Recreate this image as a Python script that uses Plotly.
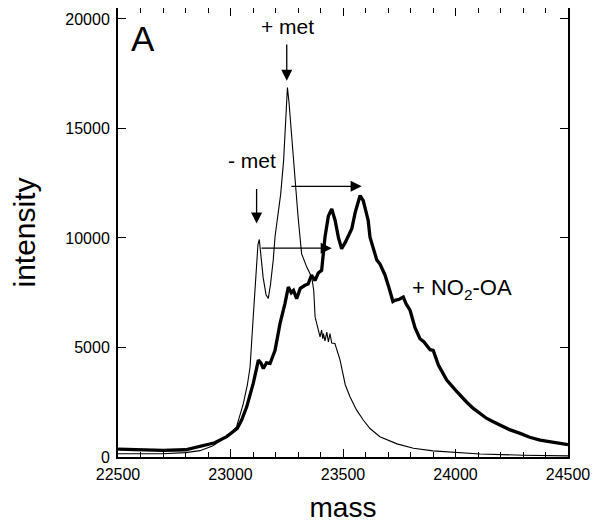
import plotly.graph_objects as go

# ---------------- data ----------------
mass_thin = [22500, 22600, 22700, 22800, 22864, 22920, 22983, 23027, 23057, 23075,
             23087, 23101, 23106, 23115, 23122, 23128, 23135, 23145, 23158, 23168,
             23178, 23190, 23198, 23210, 23223, 23236, 23245, 23253, 23260, 23270,
             23281, 23290, 23300, 23316, 23339, 23361, 23370, 23376, 23385, 23398,
             23405, 23410, 23413, 23420, 23428, 23435, 23442, 23450, 23464, 23487,
             23510, 23531, 23560, 23590, 23620, 23664, 23740, 23813, 23900, 23961,
             24050, 24109, 24300, 24500]
int_thin = [150, 140, 150, 200, 290, 500, 930, 1380, 2440, 3300,
            4110, 6390, 7150, 8800, 9700, 9930, 9300, 8200, 7400, 7240,
            7900, 9000, 10070, 11000, 12000, 13530, 15500, 16870, 16200, 14800,
            13530, 12200, 11000, 9280, 8670, 8210, 7600, 6390, 6000, 5480,
            5800, 5400, 5630, 5300, 5700, 5250, 5630, 5200, 5180, 4420,
            3300, 2750, 2150, 1690, 1300, 925, 600, 400, 280, 240,
            170, 140, 80, 50]

mass_thick = [22500, 22600, 22700, 22800, 22864, 22930, 22983, 23030, 23050, 23072,
              23101, 23115, 23124, 23135, 23146, 23160, 23176, 23198, 23210, 23220,
              23242, 23257, 23270, 23280, 23294, 23310, 23331, 23345, 23360, 23376,
              23390, 23405, 23420, 23435, 23450, 23465, 23480, 23494, 23510, 23525,
              23539, 23555, 23576, 23590, 23612, 23620, 23635, 23650, 23665, 23687,
              23705, 23722, 23731, 23750, 23768, 23780, 23798, 23820, 23842, 23860,
              23887, 23901, 23924, 23961, 24000, 24020, 24050, 24079, 24110, 24139,
              24170, 24198, 24240, 24287, 24330, 24376, 24430, 24494, 24500]
int_thick = [360, 330, 300, 330, 470, 650, 930, 1300, 1700, 2290,
             3360, 4000, 4420, 4300, 4040, 4300, 4270, 4870, 5500, 6090,
             7000, 7760, 7500, 7600, 7230, 7700, 7840, 7900, 8300, 8060,
             8400, 8520, 10040, 11000, 11330, 10800, 10000, 9510, 9800, 10100,
             10420, 11200, 11940, 11700, 10800, 10040, 9500, 9000, 8800, 8300,
             7700, 7100, 7150, 7200, 7300, 7000, 6700, 5900, 5400, 5250,
             4900, 4870, 4200, 3510, 3050, 2820, 2500, 2220, 2000, 1760,
             1600, 1460, 1250, 1080, 900, 770, 680, 580, 560]

x_ticks = [22500, 23000, 23500, 24000, 24500]
y_ticks = [0, 5000, 10000, 15000, 20000]

# arrows: (tail_x, tail_y, head_x, head_y)
arrows = [
    (23116, 12300, 23116, 10660),   # - met
    (23250, 18900, 23250, 17180),   # + met
    (23131, 9535, 23450, 9535),     # shift of - met
    (23264, 12360, 23583, 12360),   # shift of + met
]
labels = [
    ("- met", 23096, 13530, 21),
    ("+ met", 23252, 19650, 21),
    ("+ NO<sub>2</sub>-OA", 24030, 7650, 22),
]

FONT = "Liberation Sans, Arial, Helvetica, sans-serif"

fig = go.Figure()
fig.add_trace(go.Scatter(x=mass_thin, y=int_thin, mode="lines",
                         line=dict(color="black", width=1.1), showlegend=False))
fig.add_trace(go.Scatter(x=mass_thick, y=int_thick, mode="lines",
                         line=dict(color="black", width=3.3), showlegend=False))

for tx, ty, hx, hy in arrows:
    fig.add_annotation(x=hx, y=hy, ax=tx, ay=ty, xref="x", yref="y",
                       axref="x", ayref="y", text="", showarrow=True,
                       arrowhead=2, arrowsize=1.7, arrowwidth=1.3,
                       arrowcolor="black", standoff=0)

for txt, lx, ly, fs in labels:
    fig.add_annotation(x=lx, y=ly, xref="x", yref="y", text=txt,
                       showarrow=False, font=dict(size=fs, color="black", family=FONT),
                       xanchor="center", yanchor="middle", borderpad=0)

fig.add_annotation(x=0.056, y=0.933, xref="paper", yref="paper", text="A",
                   showarrow=False, font=dict(size=35, color="black", family=FONT),
                   xanchor="center", yanchor="middle")

axis_common = dict(showline=True, linewidth=2, linecolor="black", mirror="allticks",
                   ticks="inside", ticklen=8, tickwidth=1, tickcolor="black",
                   showgrid=False, zeroline=False, automargin=False,
                   tickfont=dict(size=16, color="black", family=FONT))

fig.update_xaxes(range=[22500, 24500], tickvals=x_ticks,
                 ticktext=[str(v) for v in x_ticks],
                 ticklabelstandoff=2,
                 minor=dict(dtick=100, ticks="inside", ticklen=5, tickcolor="black"),
                 title=dict(text="mass", font=dict(size=28, color="black", family=FONT),
                            standoff=15),
                 **axis_common)
fig.update_yaxes(range=[0, 20500], tickvals=y_ticks,
                 ticktext=[str(v) for v in y_ticks],
                 ticklabelstandoff=3,
                 title=dict(text="intensity", font=dict(size=30, color="black", family=FONT),
                            standoff=28),
                 **axis_common)

# page body adds an 8px offset, so the figure is sized to fit inside the window
fig.update_layout(width=592, height=517, margin=dict(l=110, r=32, t=0, b=68),
                  plot_bgcolor="white", paper_bgcolor="white",
                  font=dict(family=FONT, color="black"))

fig.write_html("out.html")
